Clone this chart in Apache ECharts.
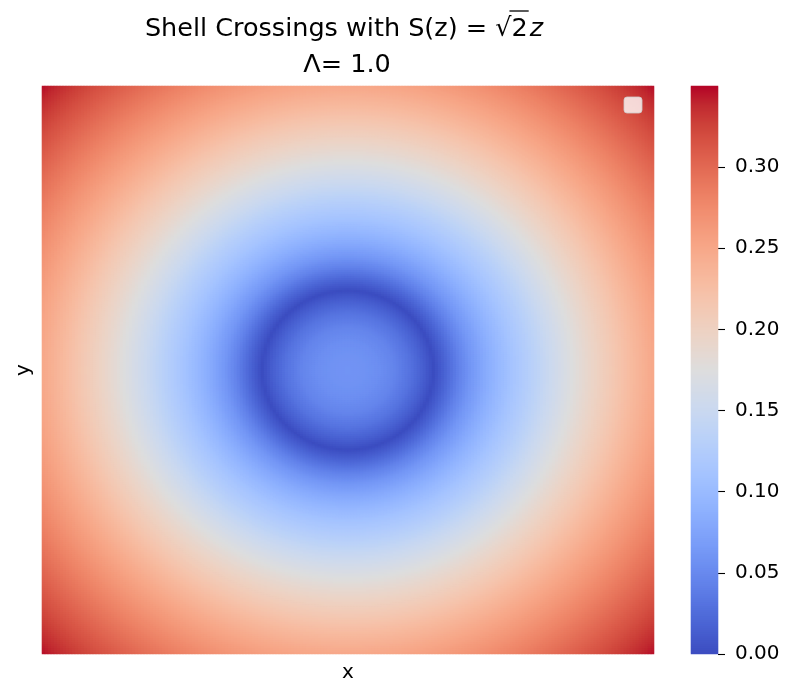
<!DOCTYPE html>
<html>
<head>
<meta charset="utf-8">
<script src="https://cdn.jsdelivr.net/npm/echarts@6/dist/echarts.min.js"></script>
<style>
  html, body { margin: 0; padding: 0; background: #ffffff; }
  #chart { width: 785px; height: 685px; }
</style>
</head>
<body>
<div id="chart"></div>
<script>
// Radial profile of the shell-crossing measure; r is normalised to the half-width of the square domain
const profileRadius = [0.00, 0.05, 0.10, 0.15, 0.20, 0.25, 0.28, 0.32, 0.36, 0.40, 0.45, 0.50, 0.55, 0.60,
                       0.65, 0.70, 0.75, 0.80, 0.85, 0.90, 0.95, 1.00, 1.10, 1.20, 1.30, 1.42];
const profileValue  = [0.060, 0.059, 0.055, 0.046, 0.032, 0.013, 0.000, 0.020, 0.042, 0.062, 0.082, 0.100, 0.116, 0.131,
                       0.148, 0.164, 0.180, 0.195, 0.209, 0.223, 0.237, 0.250, 0.274, 0.297, 0.320, 0.349];

// Colour bar ticks and range
const colorTicks = [0.00, 0.05, 0.10, 0.15, 0.20, 0.25, 0.30];
const valueMin = 0;
const valueMax = 0.35;

// Grid resolution of the field and of the colour bar
const nx = 204;
const ny = 284;
const barSteps = 284;

// coolwarm diverging colour map
const coolwarm = [
  'rgb(59,76,192)', 'rgb(68,90,204)', 'rgb(77,104,215)', 'rgb(87,117,225)', 'rgb(98,130,234)',
  'rgb(108,142,241)', 'rgb(119,154,247)', 'rgb(130,165,251)', 'rgb(141,176,254)', 'rgb(152,185,255)',
  'rgb(163,194,255)', 'rgb(174,201,253)', 'rgb(184,208,249)', 'rgb(194,213,244)', 'rgb(204,217,238)',
  'rgb(213,219,230)', 'rgb(221,221,221)', 'rgb(229,216,209)', 'rgb(236,211,197)', 'rgb(241,204,185)',
  'rgb(245,196,173)', 'rgb(247,187,160)', 'rgb(247,177,148)', 'rgb(247,166,135)', 'rgb(244,154,123)',
  'rgb(241,141,111)', 'rgb(236,127,99)', 'rgb(229,112,88)', 'rgb(222,96,77)', 'rgb(213,80,66)',
  'rgb(203,62,56)', 'rgb(192,40,47)', 'rgb(180,4,38)'
];

function profileAt(r) {
  const n = profileRadius.length;
  if (r <= profileRadius[0]) return profileValue[0];
  for (let k = 1; k < n; k++) {
    if (r <= profileRadius[k]) {
      const t = (r - profileRadius[k - 1]) / (profileRadius[k] - profileRadius[k - 1]);
      return profileValue[k - 1] + t * (profileValue[k] - profileValue[k - 1]);
    }
  }
  return profileValue[n - 1];
}

function range(n) {
  const out = [];
  for (let i = 0; i < n; i++) out.push(i);
  return out;
}

// Field cells
const cells = [];
for (let j = 0; j < ny; j++) {
  const v = ((j + 0.5) / ny) * 2 - 1;
  for (let i = 0; i < nx; i++) {
    const u = ((i + 0.5) / nx) * 2 - 1;
    cells.push([i, j, profileAt(Math.sqrt(u * u + v * v))]);
  }
}

// Colour bar cells, spanning the value range bottom to top
const barCells = [];
for (let k = 0; k < barSteps; k++) {
  barCells.push([0, k, valueMin + (k + 0.5) / barSteps * (valueMax - valueMin)]);
}

// Layout
const plot = { left: 42, top: 86, width: 612, height: 568 };
const bar = { left: 691, top: 86, width: 27, height: 568 };
const FONT = '"DejaVu Sans", sans-serif';

// Title pieces measured so the radical's overline can sit over the "2"
const measureCtx = document.createElement('canvas').getContext('2d');
function textWidth(str, size, italic) {
  measureCtx.font = (italic ? 'italic ' : '') + size + 'px "DejaVu Sans"';
  return measureCtx.measureText(str).width;
}
const titleSize = 25.5;
const prefix = 'Shell Crossings with S(z) = ';
const wPrefix = textWidth(prefix, titleSize, false);
const wRoot = textWidth('\u221A', titleSize, false);
const wTwo = textWidth('2', titleSize, false);
const wZ = textWidth('z', titleSize, true);
const titleCenter = plot.left + plot.width / 2 - 1;
const line1Y = 29.5;
const x0 = titleCenter - 3 - (wPrefix + wRoot + wTwo + wZ + 2) / 2;
const xRoot = x0 + wPrefix;
const xTwo = xRoot + wRoot;
const xZ = xTwo + wTwo + 2;
const titleFont = titleSize + 'px ' + FONT;

const chart = echarts.init(document.getElementById('chart'), null, { renderer: 'canvas' });

chart.setOption({
  animation: false,
  backgroundColor: '#ffffff',
  grid: [
    { left: plot.left, top: plot.top, width: plot.width, height: plot.height, containLabel: false, outerBoundsMode: 'none' },
    { left: bar.left, top: bar.top, width: bar.width, height: bar.height, containLabel: false, outerBoundsMode: 'none' }
  ],
  xAxis: [
    {
      type: 'category', gridIndex: 0, data: range(nx), boundaryGap: true,
      axisLine: { show: false }, axisTick: { show: false }, axisLabel: { show: false }, splitLine: { show: false },
      name: 'x', nameLocation: 'middle', nameGap: 9,
      nameTextStyle: { fontSize: 20, color: '#000', fontFamily: FONT }
    },
    {
      type: 'category', gridIndex: 1, data: [0], boundaryGap: true,
      axisLine: { show: false }, axisTick: { show: false }, axisLabel: { show: false }, splitLine: { show: false }
    }
  ],
  yAxis: [
    {
      type: 'category', gridIndex: 0, data: range(ny), boundaryGap: true,
      axisLine: { show: false }, axisTick: { show: false }, axisLabel: { show: false }, splitLine: { show: false },
      name: 'y', nameLocation: 'middle', nameGap: 8, nameRotate: 90,
      nameTextStyle: { fontSize: 20, color: '#000', fontFamily: FONT }
    },
    {
      type: 'category', gridIndex: 1, position: 'left', data: range(barSteps), boundaryGap: true,
      axisLine: { show: false }, axisTick: { show: false }, axisLabel: { show: false }, splitLine: { show: false }
    },
    {
      type: 'value', gridIndex: 1, position: 'right', min: valueMin, max: valueMax, interval: 0.05,
      axisLine: { show: true, lineStyle: { color: 'rgba(0,0,0,0)' } },
      splitLine: { show: false },
      axisTick: { show: true, length: 7, customValues: colorTicks, lineStyle: { color: '#000', width: 1.1 } },
      axisLabel: {
        show: true, margin: 17, customValues: colorTicks,
        formatter: (val) => val.toFixed(2),
        fontSize: 20, color: '#000', fontFamily: FONT
      }
    }
  ],
  visualMap: {
    type: 'continuous', show: false, seriesIndex: [0, 1], min: valueMin, max: valueMax,
    inRange: { color: coolwarm }
  },
  series: [
    {
      type: 'heatmap', xAxisIndex: 0, yAxisIndex: 0, data: cells,
      progressive: 0, itemStyle: { borderWidth: 0 },
      emphasis: { disabled: true }
    },
    {
      type: 'heatmap', xAxisIndex: 1, yAxisIndex: 1, data: barCells,
      progressive: 0, itemStyle: { borderWidth: 0 },
      emphasis: { disabled: true }
    }
  ],
  graphic: [
    // title, first line
    { type: 'text', silent: true,
      style: { text: prefix, x: x0, y: line1Y, font: titleFont, fill: '#000', verticalAlign: 'middle', align: 'left' } },
    { type: 'text', silent: true,
      style: { text: '\u221A', x: xRoot, y: line1Y, font: titleFont, fill: '#000', verticalAlign: 'middle', align: 'left' } },
    { type: 'text', silent: true,
      style: { text: '2', x: xTwo, y: line1Y, font: titleFont, fill: '#000', verticalAlign: 'middle', align: 'left' } },
    { type: 'text', silent: true,
      style: { text: 'z', x: xZ, y: line1Y, font: 'italic ' + titleFont, fill: '#000', verticalAlign: 'middle', align: 'left' } },
    { type: 'line', silent: true,
      shape: { x1: xRoot + wRoot - 2, y1: 11, x2: xTwo + wTwo + 1, y2: 11 },
      style: { stroke: '#000', lineWidth: 1.3 } },
    // title, second line
    { type: 'text', silent: true,
      style: { text: '\u039B= 1.0', x: titleCenter, y: 65.5, font: titleFont, fill: '#000', verticalAlign: 'middle', align: 'center' } },
    // empty legend frame in the upper right corner
    { type: 'rect', silent: true, z: 10,
      shape: { x: 624, y: 97, width: 18, height: 16, r: 3 },
      style: { fill: 'rgba(255,255,255,0.8)', stroke: 'rgba(204,204,204,0.8)', lineWidth: 1 } }
  ]
});
</script>
</body>
</html>
